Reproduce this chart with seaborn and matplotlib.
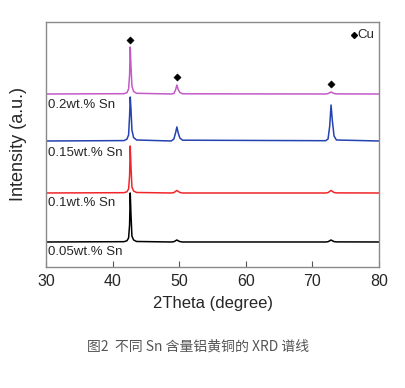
import matplotlib
matplotlib.use("Agg")
import matplotlib.pyplot as plt
import seaborn as sns
import pandas as pd

# 2theta sample points (degree)
two_theta = [30, 41.7, 42.15, 42.4, 42.55, 42.65, 42.75, 42.9, 43.15, 43.6,
             48.8, 49.2, 49.45, 49.65, 49.85, 50.1, 50.5,
             72.0, 72.35, 72.6, 72.8, 73.0, 73.25, 73.6, 80]

# stacked intensities (a.u., already offset as in the figure)
sn_005 = [25, 25.3, 26.2, 29, 42, 74, 54, 31, 27, 25.5,
          25, 25.3, 26.2, 27, 26.2, 25.4, 25,
          25, 25.3, 26.2, 27, 26.2, 25.4, 25.1, 25]
sn_01 = [74, 74.3, 75.2, 78, 91, 121, 102, 80, 76, 74.5,
         74, 74.4, 75.6, 76.5, 75.6, 74.5, 74,
         74, 74.4, 75.6, 76.5, 75.6, 74.5, 74.1, 74]
sn_015 = [126, 126.4, 127.8, 132, 151, 170, 159, 137, 129.5, 127,
          126, 128, 134, 140, 134, 129, 126.8,
          126.3, 128, 141, 162, 146, 131, 127, 126]
sn_02 = [173, 173.3, 174.3, 178, 192, 220, 202, 181, 175.5, 173.7,
         173, 173.5, 177, 182, 177.5, 174.5, 173.2,
         173, 173.4, 174.3, 175, 174.3, 173.5, 173.1, 173]

labels = ["0.05wt.% Sn", "0.1wt.% Sn", "0.15wt.% Sn", "0.2wt.% Sn"]
colors = ["#000000", "#F0262A", "#2442B0", "#C45AC8"]
label_y = [15, 64, 114, 162]

# Cu peak markers
cu_x = [42.65, 49.65, 72.8]
cu_y = [227, 190, 183]

sns.set_style("ticks")
plt.rcParams["font.family"] = ["Liberation Sans", "DejaVu Sans"]

fig = plt.figure(figsize=(4.06, 3.88), dpi=100)
ax = fig.add_axes([0.1133, 0.3119, 0.8202, 0.6314])

for ys, c in zip([sn_005, sn_01, sn_015, sn_02], colors):
    df = pd.DataFrame({"x": two_theta, "y": ys})
    sns.lineplot(data=df, x="x", y="y", color=c, lw=1.1, ax=ax, sort=False)

for lab, yy in zip(labels, label_y):
    ax.text(30.3, yy, lab, fontsize=9.5, va="center", ha="left")

sns.scatterplot(x=cu_x, y=cu_y, marker="D", s=14, color="black",
                edgecolor="black", ax=ax)
ax.plot([76.3], [232], marker="D", ms=3.0, color="black", ls="none")
ax.text(76.7, 232, "Cu", fontsize=9.5, va="center", ha="left")

ax.set_xlim(30, 80)
ax.set_ylim(0, 245)
ax.set_xticks([30, 40, 50, 60, 70, 80])
ax.set_yticks([])
ax.tick_params(axis="x", direction="in", length=4, width=0.8,
               color="#555555", labelsize=11.5, pad=5)
for s in ax.spines.values():
    s.set_visible(True)
    s.set_color("#8a8a8a")
    s.set_linewidth(1.0)
ax.set_xlabel("2Theta (degree)", fontsize=12, labelpad=5)
ax.set_ylabel("Intensity (a.u.)", fontsize=13, labelpad=14)

fig.text(0.488, 1 - 347 / 388, "图2  不同 Sn 含量铝黄铜的 XRD 谱线",
         fontsize=10, color="#555555", ha="center", va="center",
         family=["Noto Sans CJK SC", "DejaVu Sans"], fontweight="light")

fig.savefig("out.png", dpi=100)
